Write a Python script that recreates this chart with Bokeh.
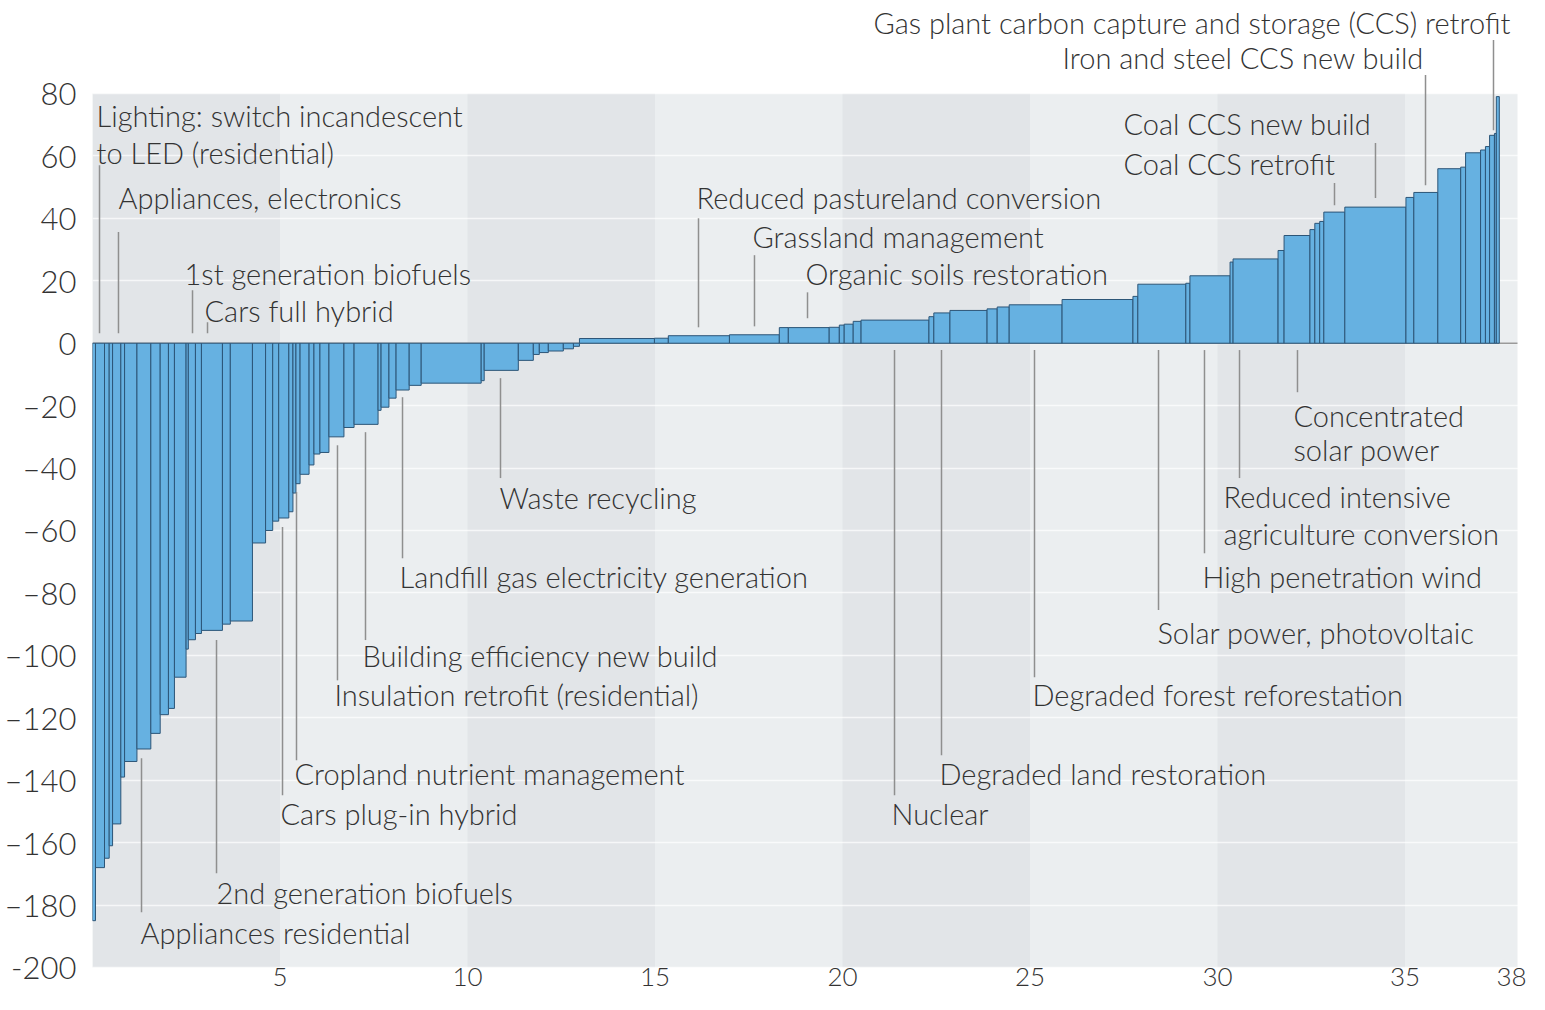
import numpy as np
from bokeh.plotting import figure
from bokeh.models import FixedTicker, Range1d, ColumnDataSource
from bokeh.core.properties import value
from bokeh.embed import file_html
from bokeh.resources import INLINE

# Abatement potential (width, GtCO2e) and cost (EUR per tCO2e) of each measure, in merit order
widths = [0.08, 0.24, 0.125, 0.09, 0.22, 0.10, 0.33, 0.37, 0.25, 0.22, 0.16, 0.31, 0.06, 0.19,
          0.16, 0.56, 0.21, 0.59, 0.35, 0.19, 0.16, 0.27, 0.11, 0.08, 0.11, 0.24, 0.13, 0.16,
          0.24, 0.40, 0.27, 0.64, 0.08, 0.21, 0.19, 0.35, 0.32, 1.60, 0.08, 0.91, 0.40, 0.16,
          0.24, 0.40, 0.27, 0.16,
          2.00, 0.37, 1.63, 1.33, 0.24, 1.09, 0.27, 0.13, 0.24, 0.21, 1.81, 0.13, 0.43, 0.99,
          0.27, 0.32, 1.41, 1.89, 0.13, 1.28, 0.11, 1.07, 0.08, 1.20, 0.16, 0.69, 0.13, 0.13,
          0.11, 0.56, 1.63, 0.21, 0.64, 0.61, 0.13, 0.40, 0.13, 0.11, 0.13, 0.05, 0.08]
costs = [-185, -168, -165, -161, -154, -139, -134, -130, -125, -119, -117, -107, -98, -95,
         -93, -92, -90, -89, -64, -60, -57, -56, -54, -48, -45, -42, -39, -35.5,
         -35, -30, -27, -26, -21.5, -20.5, -17.6, -15, -13.5, -12.8, -12, -8.7, -5.5, -3.6,
         -3, -2.5, -1.8, -1,
         1.5, 1.6, 2.4, 2.7, 5, 5, 5.1, 5.8, 6.1, 7, 7.4, 8.5, 9.7, 10.5,
         11, 11.6, 12.3, 14, 15, 18.9, 19.2, 21.6, 26, 27, 29.7, 34.5, 36.4, 38.4,
         39, 42, 43.6, 46.7, 48.3, 55.9, 56.4, 61, 61.9, 63, 66.6, 67.2, 79]

y_ticks = [-200, -180, -160, -140, -120, -100, -80, -60, -40, -20, 0, 20, 40, 60, 80]
y_tick_labels = ["-200", "\u2013180", "\u2013160", "\u2013140", "\u2013120", "\u2013100", "\u201380",
                 "\u201360", "\u201340", "\u201320", "0", "20", "40", "60", "80"]
x_ticks = [5, 10, 15, 20, 25, 30, 35, 38]
x_tick_labels = ["5", "10", "15", "20", "25", "30", "35", "38"]
band_starts = [0, 10, 20, 30]
band_ends = [5, 15, 25, 35]

# Annotations: text, left x, centre y
label_text = ["Lighting: switch incandescent", "to LED (residential)", "Appliances, electronics",
              "1st generation biofuels", "Cars full hybrid", "2nd generation biofuels",
              "Appliances residential", "Cropland nutrient management", "Cars plug-in hybrid",
              "Building efficiency new build", "Insulation retrofit (residential)",
              "Landfill gas electricity generation", "Waste recycling",
              "Reduced pastureland conversion", "Grassland management", "Organic soils restoration",
              "Nuclear", "Degraded land restoration", "Degraded forest reforestation",
              "Concentrated", "solar power", "Reduced intensive", "agriculture conversion",
              "High penetration wind", "Solar power, photovoltaic", "Coal CCS new build",
              "Coal CCS retrofit", "Iron and steel CCS new build",
              "Gas plant carbon capture and storage (CCS) retrofit"]
label_x = [0.107, 0.107, 0.693, 2.453, 2.987, 3.307, 1.28, 5.387, 5.013, 7.2, 6.453, 8.187,
           10.853, 16.107, 17.6, 19.013, 21.307, 22.587, 25.067, 32.027, 32.027, 30.16, 30.16,
           29.6, 28.4, 27.493, 27.493, 25.867, 20.827]
label_y = [73.0, 61.2, 46.8, 22.4, 10.6, -175.9, -188.7, -137.8, -150.6, -100.0, -112.5, -74.6,
           -49.3, 46.8, 34.3, 22.4, -150.6, -137.8, -112.5, -23.1, -34.0, -49.0, -60.9, -74.6,
           -92.6, 70.5, 57.7, 91.6, 102.8]

# Leader lines: x, from y, to y
lead_x = [0.187, 0.693, 2.667, 3.067, 3.307, 1.307, 5.44, 5.067, 7.28, 6.533, 8.267, 10.88,
          16.16, 17.653, 19.067, 21.387, 22.64, 25.12, 32.133, 30.587, 29.653, 28.427,
          34.213, 33.12, 35.547, 37.36]
lead_y0 = [57.0, 35.6, 17.0, 6.7, -95.1, -133.0, -47.7, -58.9, -28.5, -32.7, -17.3, -11.2,
           40.0, 28.2, 16.3, -2.2, -2.2, -2.2, -2.2, -2.2, -2.2, -2.2, 64.1, 51.3, 85.9, 97.1]
lead_y1 = [3.2, 3.2, 3.2, 3.2, -169.8, -182.3, -133.6, -144.8, -95.1, -108.0, -68.9, -43.2,
           5.1, 5.4, 8.0, -144.8, -132.0, -107.0, -15.7, -43.2, -67.3, -85.5, 46.5, 44.2,
           50.6, 68.2]

FONT = "Lato Light, Liberation Sans"
TXT = "#333333"
X_MIN, X_MAX, Y_MIN, Y_MAX = 0, 38, -200, 80

w = np.array(widths)
c = np.array(costs, dtype=float)
right = np.cumsum(w)
left = right - w

p = figure(width=1529, height=994, output_backend="svg", toolbar_location=None,
           x_range=Range1d(0, 38.32), y_range=Range1d(-208.65, 109.79),
           min_border_left=92, min_border_right=0, min_border_top=0, min_border_bottom=0)
p.outline_line_color = None
p.background_fill_color = "white"
p.border_fill_color = "white"

# background bands
p.quad(left=[X_MIN], right=[X_MAX], bottom=[Y_MIN], top=[Y_MAX], fill_color="#ebeef0",
       line_color=None, level="image")
p.quad(left=band_starts, right=band_ends, bottom=Y_MIN, top=Y_MAX, fill_color="#e2e5e8",
       line_color=None, level="image")

# grid
p.xgrid.visible = False
p.ygrid.ticker = FixedTicker(ticks=y_ticks)
p.ygrid.grid_line_color = "white"
p.ygrid.grid_line_alpha = 0.7
p.ygrid.grid_line_width = 1.5

# zero line
p.segment(x0=[X_MIN], y0=[0], x1=[X_MAX], y1=[0], line_color="#9a9a9a", line_width=1.5)

# bars
src = ColumnDataSource(dict(left=left, right=right, bottom=np.minimum(c, 0), top=np.maximum(c, 0)))
p.quad(left="left", right="right", bottom="bottom", top="top", source=src,
       fill_color="#66b1e1", line_color="#2c5577", line_width=1)

# leader lines
p.segment(x0=lead_x, y0=lead_y0, x1=lead_x, y1=lead_y1, line_color="#8f8f8f", line_width=1.5)

# labels
p.text(x=label_x, y=label_y, text=label_text, text_font=value(FONT), text_font_size="29px",
       text_color=TXT, text_baseline="middle", text_align="left")

# x tick labels (placed under the -200 line through the data scale)
p.text(x=x_ticks, y=[Y_MIN] * len(x_ticks), text=x_tick_labels, text_font=value(FONT),
       text_font_size="26px", text_color=TXT, text_baseline="middle", text_align="center",
       y_offset=10, x_offset=[0, 0, 0, 0, 0, 0, 0, -6])
p.xaxis.visible = False

# y axis
ax = p.yaxis[0]
ax.axis_line_color = None
ax.major_tick_line_color = None
ax.minor_tick_line_color = None
ax.major_tick_out = 0
ax.major_tick_in = 0
ax.minor_tick_out = 0
ax.minor_tick_in = 0
ax.major_label_text_font = FONT
ax.major_label_text_color = TXT
ax.major_label_text_font_size = "31px"
ax.ticker = FixedTicker(ticks=y_ticks)
ax.major_label_overrides = dict(zip(y_ticks, y_tick_labels))
ax.major_label_standoff = 16

open("out.html", "w").write(file_html(p, INLINE))
